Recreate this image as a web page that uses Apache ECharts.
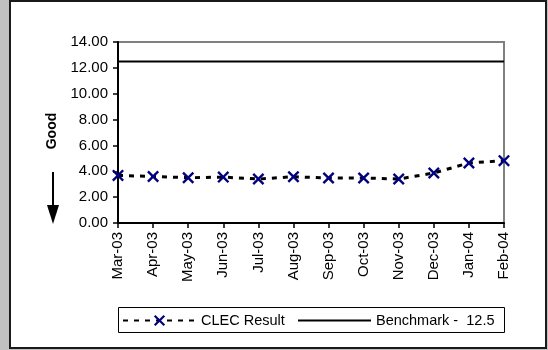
<!DOCTYPE html>
<html>
<head>
<meta charset="utf-8">
<script src="https://cdn.jsdelivr.net/npm/echarts@6/dist/echarts.min.js"></script>
<style>
html,body{margin:0;padding:0;background:#c0c0c0;}
#c{width:548px;height:350px;}
</style>
</head>
<body>
<div id="c"></div>
<script>
const categories = ['Mar-03','Apr-03','May-03','Jun-03','Jul-03','Aug-03','Sep-03','Oct-03','Nov-03','Dec-03','Jan-04','Feb-04'];
const clecResult = [3.68, 3.60, 3.50, 3.55, 3.40, 3.58, 3.48, 3.48, 3.40, 3.87, 4.64, 4.82];
const benchmark = [12.5, 12.5, 12.5, 12.5, 12.5, 12.5, 12.5, 12.5, 12.5, 12.5, 12.5, 12.5];
const yTicks = {min: 0, max: 14, interval: 2};
const seriesNames = ['CLEC Result', 'Benchmark -  12.5'];
const axisTitle = 'Good';

const FONT = '"Liberation Sans", Arial, sans-serif';
const X_PATH = 'path://M0,1.4L1.4,0L5,3.6L8.6,0L10,1.4L6.4,5L10,8.6L8.6,10L5,6.4L1.4,10L0,8.6L3.6,5Z';

const chart = echarts.init(document.getElementById('c'), null, {renderer: 'canvas'});
chart.setOption({
  animation: false,
  backgroundColor: 'transparent',
  graphic: [
    {type: 'rect', z: -10, shape: {x: 10, y: 1, width: 536, height: 347},
     style: {fill: '#ffffff', stroke: '#1a1a1a', lineWidth: 2}},
    {type: 'text', x: 52, y: 131, rotation: Math.PI / 2,
     style: {text: axisTitle, font: 'bold 14px ' + FONT, fill: '#000', align: 'center', verticalAlign: 'middle'}},
    {type: 'line', shape: {x1: 53, y1: 172, x2: 53, y2: 208}, style: {stroke: '#000', lineWidth: 2}},
    {type: 'polygon', shape: {points: [[47, 205], [59, 205], [53, 224]]}, style: {fill: '#000'}},
    {type: 'rect', shape: {x: 118.5, y: 307.5, width: 386, height: 25}, style: {fill: '#fff', stroke: '#000', lineWidth: 1}, z: 1}
  ],
  grid: {left: 118, top: 42, width: 386, height: 181, show: true, borderColor: '#808080', borderWidth: 2, backgroundColor: '#fff'},
  xAxis: {
    type: 'category', data: categories, boundaryGap: false,
    axisLine: {lineStyle: {color: '#000', width: 2}},
    axisTick: {show: true, alignWithLabel: true, length: 5, inside: false, lineStyle: {color: '#000', width: 1.5}},
    axisLabel: {rotate: 90, margin: 9, color: '#000', fontFamily: FONT, fontSize: 15, interval: 0},
    splitLine: {show: false}
  },
  yAxis: {
    type: 'value', min: yTicks.min, max: yTicks.max, interval: yTicks.interval,
    axisLine: {show: true, lineStyle: {color: '#000', width: 2}},
    axisTick: {show: true, length: 5, lineStyle: {color: '#000', width: 1.5}},
    axisLabel: {margin: 10, color: '#000', fontFamily: FONT, fontSize: 15, formatter: v => v.toFixed(2)},
    splitLine: {show: false}
  },
  legend: [
    {data: [seriesNames[0]], left: 122, top: 313, itemWidth: 73, itemHeight: 14, padding: 0,
     textStyle: {fontFamily: FONT, fontSize: 14.5, color: '#000'}, z: 5},
    {data: [seriesNames[1]], left: 297, top: 313, itemWidth: 73, itemHeight: 14, padding: 0,
     itemStyle: {opacity: 0},
     textStyle: {fontFamily: FONT, fontSize: 14.5, color: '#000'}, z: 5}
  ],
  series: [
    {name: seriesNames[0], type: 'line', data: clecResult, symbol: X_PATH, symbolSize: 12,
     itemStyle: {color: '#000080'}, lineStyle: {color: '#000', width: 3, type: [5, 6]}, z: 3},
    {name: seriesNames[1], type: 'line', data: benchmark, symbol: 'none',
     itemStyle: {color: '#000'}, lineStyle: {color: '#000', width: 2}, z: 2}
  ]
});
</script>
</body>
</html>
